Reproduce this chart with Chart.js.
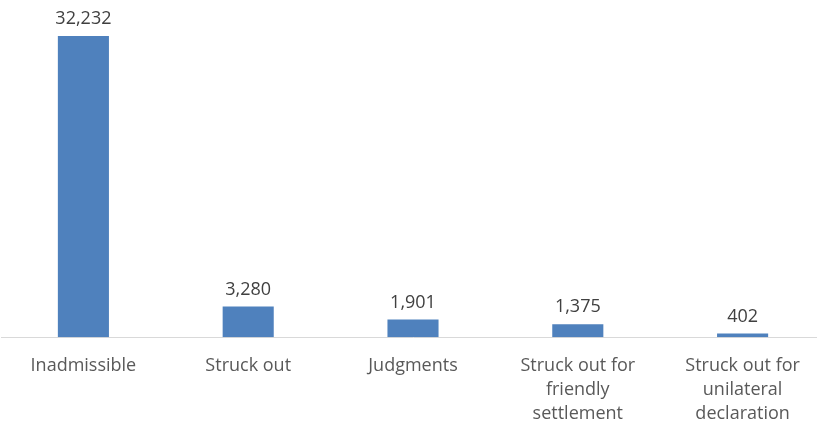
<!DOCTYPE html>
<html>
<head>
<meta charset="utf-8">
<script src="https://cdn.jsdelivr.net/npm/chart.js@4.4.0/dist/chart.umd.min.js"></script>
<style>
  html, body { margin: 0; padding: 0; background: #fff; overflow: hidden; }
  #wrap { position: relative; width: 825px; height: 435px; }
</style>
</head>
<body>
<div id="wrap"><canvas id="chart"></canvas></div>
<script>
// Case outcomes
const categories = [
  'Inadmissible',
  'Struck out',
  'Judgments',
  ['Struck out for', 'friendly', 'settlement'],
  ['Struck out for', 'unilateral', 'declaration']
];
const values = [32232, 3280, 1901, 1375, 402];

// draw value labels above each bar
const valueLabels = {
  id: 'valueLabels',
  afterDatasetsDraw(chart) {
    const ctx = chart.ctx;
    const meta = chart.getDatasetMeta(0);
    ctx.save();
    ctx.font = '18px "Open Sans", "Noto Sans", sans-serif';
    ctx.fillStyle = '#404040';
    ctx.textAlign = 'center';
    ctx.textBaseline = 'bottom';
    meta.data.forEach((bar, i) => {
      ctx.fillText(values[i].toLocaleString('en-US'), bar.x, bar.y - 8);
    });
    ctx.restore();
  }
};

new Chart(document.getElementById('chart'), {
  type: 'bar',
  data: {
    labels: categories,
    datasets: [{
      data: values,
      backgroundColor: '#4f81bd',
      borderWidth: 0,
      categoryPercentage: 1,
      barPercentage: 0.31
    }]
  },
  options: {
    responsive: true,
    maintainAspectRatio: false,
    animation: false,
    layout: { padding: { left: 1, right: 0, top: 10, bottom: 0 } },
    plugins: { legend: { display: false }, tooltip: { enabled: false } },
    scales: {
      x: {
        grid: { display: false },
        border: { display: true, color: '#d9d9d9', width: 1 },
        ticks: {
          color: '#595959',
          font: { family: '"Open Sans", "Noto Sans", sans-serif', size: 18, lineHeight: 1.33 },
          padding: 9,
          maxRotation: 0,
          autoSkip: false
        }
      },
      y: {
        display: false,
        min: 0,
        max: 35000
      }
    }
  },
  plugins: [valueLabels]
});
</script>
</body>
</html>
